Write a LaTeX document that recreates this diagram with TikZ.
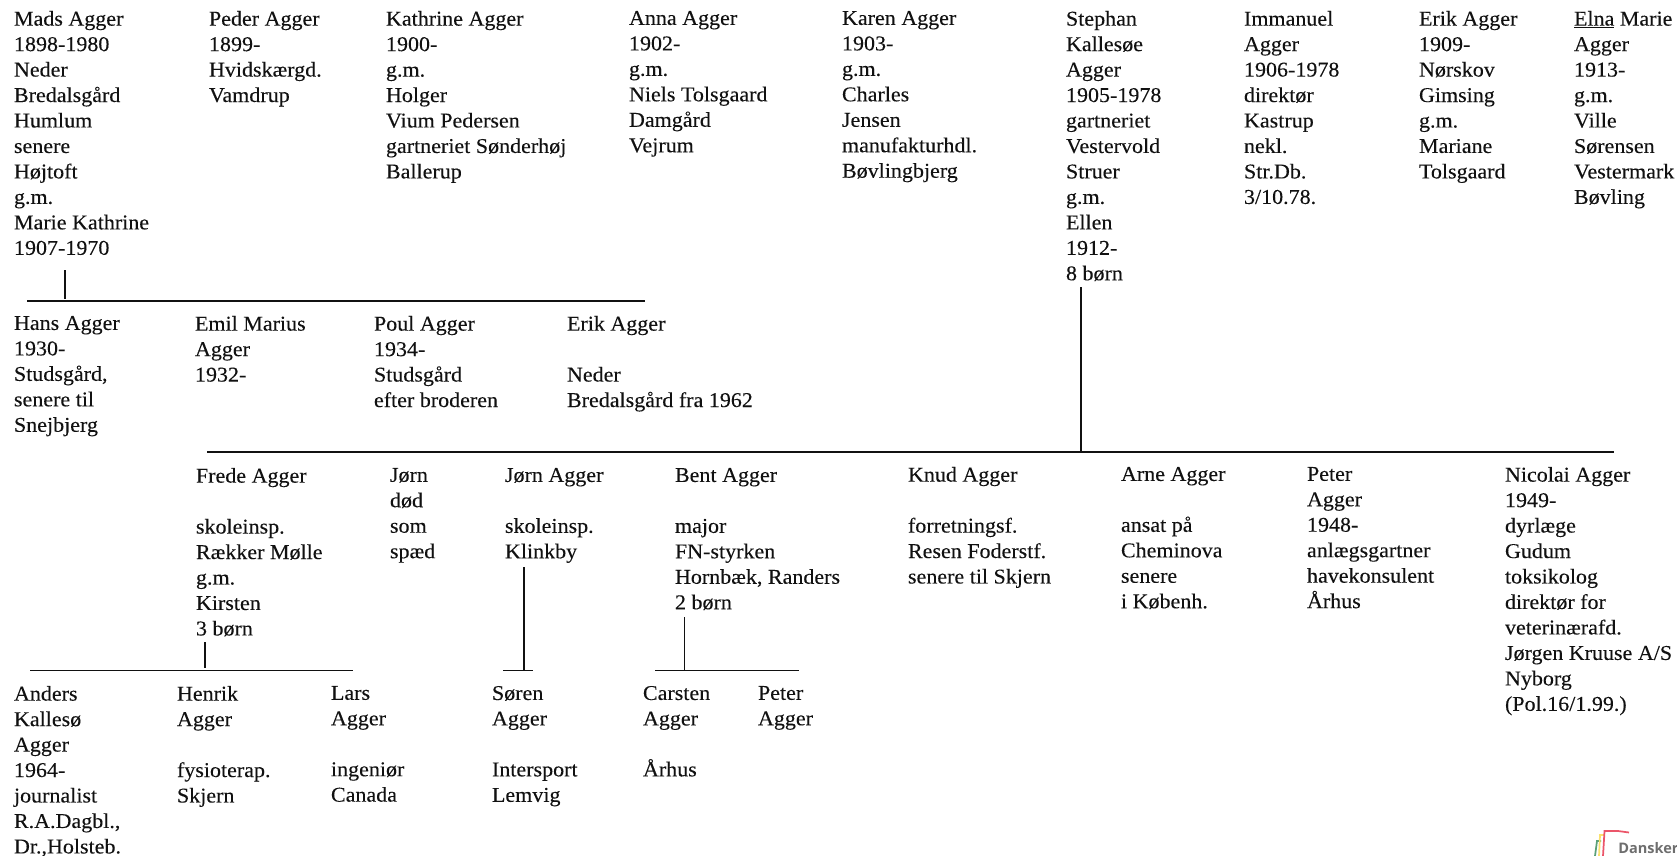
\documentclass[tikz,border=0pt]{standalone}
\usepackage{fontspec}
\setmainfont[FakeStretch=1.045,FakeBold=0.12]{Liberation Serif}
\newfontfamily\logofont{Open Sans}
\definecolor{ink}{HTML}{111111}
\tikzset{
  x=0.75pt,y=-0.75pt,
  person/.style={anchor=north west,inner sep=0pt,outer sep=0pt,align=left,text=ink,yshift=2.25pt,
    font=\fontsize{15.8pt}{19.1pt}\selectfont,execute at begin node={\rule{0pt}{11pt}}},
  link/.style={draw=ink,line width=1.05pt},
  bar/.style={draw=ink,line width=1.05pt},
}
\begin{document}
\begin{tikzpicture}
\useasboundingbox (0,0) rectangle (1677,856);
\clip (0,0) rectangle (1677,856);
% generation 1
\node[person] (mads) at (14,14) {Mads Agger\\1898-1980\\Neder\\Bredalsgård\\Humlum\\senere\\Højtoft\\g.m.\\Marie Kathrine\\1907-1970};
\node[person] (peder) at (209,14) {Peder Agger\\1899-\\Hvidskærgd.\\Vamdrup};
\node[person] (kathrine) at (386,14) {Kathrine Agger\\1900-\\g.m.\\Holger\\Vium Pedersen\\gartneriet Sønderhøj\\Ballerup};
\node[person] (anna) at (629,14) {Anna Agger\\1902-\\g.m.\\Niels Tolsgaard\\Damgård\\Vejrum};
\node[person] (karen) at (842,14) {Karen Agger\\1903-\\g.m.\\Charles\\Jensen\\manufakturhdl.\\Bøvlingbjerg};
\node[person] (stephan) at (1066,14) {Stephan\\Kallesøe\\Agger\\1905-1978\\gartneriet\\Vestervold\\Struer\\g.m.\\Ellen\\1912-\\8 børn};
\node[person] (immanuel) at (1244,14) {Immanuel\\Agger\\1906-1978\\direktør\\Kastrup\\nekl.\\Str.Db.\\3/10.78.};
\node[person] (erik1) at (1419,14) {Erik Agger\\1909-\\Nørskov\\Gimsing\\g.m.\\Mariane\\Tolsgaard};
\node[person] (elna) at (1574,14) {\underline{Elna} Marie\\Agger\\1913-\\g.m.\\Ville\\Sørensen\\Vestermark\\Bøvling};
% generation 2
\node[person] (hans) at (14,319) {Hans Agger\\1930-\\Studsgård,\\senere til\\Snejbjerg};
\node[person] (emil) at (195,319) {Emil Marius\\Agger\\1932-};
\node[person] (poul) at (374,319) {Poul Agger\\1934-\\Studsgård\\efter broderen};
\node[person] (erik2) at (567,319) {Erik Agger\\~\\Neder\\Bredalsgård fra 1962};
% generation 2 of Stephan
\node[person] (frede) at (196,471) {Frede Agger\\~\\skoleinsp.\\Rækker Mølle\\g.m.\\Kirsten\\3 børn};
\node[person] (jorn1) at (390,471) {Jørn\\død\\som\\spæd};
\node[person] (jorn2) at (505,471) {Jørn Agger\\~\\skoleinsp.\\Klinkby};
\node[person] (bent) at (675,471) {Bent Agger\\~\\major\\FN-styrken\\Hornbæk, Randers\\2 børn};
\node[person] (knud) at (908,470) {Knud Agger\\~\\forretningsf.\\Resen Foderstf.\\senere til Skjern};
\node[person] (arne) at (1121,470) {Arne Agger\\~\\ansat på\\Cheminova\\senere\\i Københ.};
\node[person] (peter1) at (1307,470) {Peter\\Agger\\1948-\\anlægsgartner\\havekonsulent\\Århus};
\node[person] (nicolai) at (1505,470) {Nicolai Agger\\1949-\\dyrlæge\\Gudum\\toksikolog\\direktør for\\veterinærafd.\\Jørgen Kruuse A/S\\Nyborg\\(Pol.16/1.99.)};
% generation 3
\node[person] (anders) at (14,689) {Anders\\Kallesø\\Agger\\1964-\\journalist\\R.A.Dagbl.,\\Dr.,Holsteb.};
\node[person] (henrik) at (177,689) {Henrik\\Agger\\~\\fysioterap.\\Skjern};
\node[person] (lars) at (331,689) {Lars\\Agger\\~\\ingeniør\\Canada};
\node[person] (soren) at (492,689) {Søren\\Agger\\~\\Intersport\\Lemvig};
\node[person] (carsten) at (643,689) {Carsten\\Agger\\~\\Århus};
\node[person] (peter2) at (758,689) {Peter\\Agger};
% connector ends
\coordinate (b1l) at (27,301); \coordinate (b1r) at (645,301);
\coordinate (d1a) at (65,270); \coordinate (d1b) at (65,299);
\coordinate (b2l) at (207,452); \coordinate (b2r) at (1614,452);
\coordinate (d2a) at (1081,287); \coordinate (d2b) at (1081,451);
\coordinate (b3l) at (30,670.5); \coordinate (b3r) at (353,670.5);
\coordinate (d3a) at (205,642); \coordinate (d3b) at (205,668);
\coordinate (b4l) at (503,670.5); \coordinate (b4r) at (533,670.5);
\coordinate (d4a) at (524,567); \coordinate (d4b) at (524,670);
\coordinate (b5l) at (655,670.5); \coordinate (b5r) at (799,670.5);
\coordinate (d5a) at (684.5,617); \coordinate (d5b) at (684.5,670);
\draw[bar] (b1l) -- (b1r);
\draw[link] (d1a) -- (d1b);
\draw[bar] (b2l) -- (b2r);
\draw[link] (d2a) -- (d2b);
\draw[bar] (b3l) -- (b3r);
\draw[link] (d3a) -- (d3b);
\draw[bar] (b4l) -- (b4r);
\draw[link] (d4a) -- (d4b);
\draw[bar] (b5l) -- (b5r);
\draw[link] (d5a) -- (d5b);
% logo, cut by the page edge
\draw[draw={rgb,255:red,90;green,160;blue,120},line width=1.3pt] (1595,856) -- (1597,841) -- (1601,841);
\draw[draw={rgb,255:red,250;green,225;blue,110},line width=1.3pt] (1599,856) -- (1600,835) -- (1604,835);
\draw[draw={rgb,255:red,235;green,85;blue,105},line width=1.3pt] (1603,856) -- (1604.5,831) -- (1618,831) -- (1629,832.5);
\node[anchor=base west,inner sep=0pt,text={rgb,255:red,110;green,110;blue,110},font=\logofont\bfseries\fontsize{10.9pt}{13pt}\selectfont] (logo) at (1618,853) {Dansker};
\end{tikzpicture}
\end{document}
